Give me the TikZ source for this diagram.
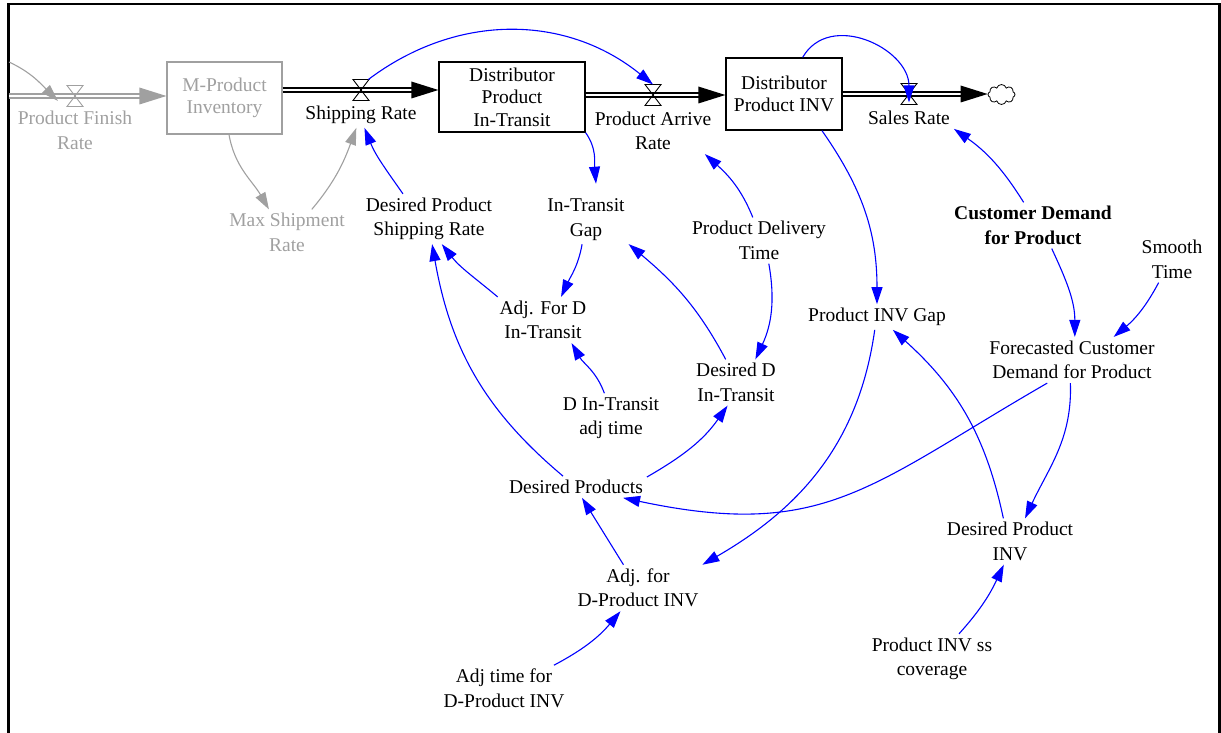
\documentclass[tikz,border=0pt]{standalone}
\usepackage{fontspec}
\setmainfont{Liberation Serif}
\usetikzlibrary{arrows.meta,calc,shapes.symbols}

\definecolor{linkblue}{RGB}{0,0,255}
\definecolor{ghost}{RGB}{160,160,160}

% hourglass valve drawn on a flow pipe
\newcommand\drawvalve[2][black]{%
  \draw[#1, line width=0.9pt] ($(#2)+(-8,10.5)$) -- ($(#2)+(8,10.5)$)
    -- ($(#2)+(-8,-10.5)$) -- ($(#2)+(8,-10.5)$) -- cycle;}
% solid head at the end of a pipe
\newcommand\pipehead[2][black]{%
  \fill[#1] (#2) -- ++(-27,8.5) -- ++(0,-17) -- cycle;}

\begin{document}
\begin{tikzpicture}[x=1pt,y=1pt,
  every node/.style={font=\fontsize{19.5}{24.5}\selectfont},
  lbl/.style={align=center, inner sep=4pt, outer sep=0pt},
  faded/.style={lbl, text=ghost},
  stock/.style={draw, line width=1.3pt, align=center, inner sep=2pt,
    font=\fontsize{19.5}{22.5}\selectfont},
  valve/.style={minimum width=16pt, minimum height=21pt, inner sep=0pt, outer sep=0pt},
  pipe/.style={draw=black, double=white, line width=1.3pt, double distance=2.6pt},
  link/.style={draw=linkblue, line width=1.1pt, -{Triangle[length=17pt,width=11pt]}},
  glink/.style={draw=ghost, line width=1.1pt, -{Triangle[length=17pt,width=11pt]}}
]
\useasboundingbox (0,0) rectangle (1221,-733);
\clip (0,0) rectangle (1221,-733);

% frame
\draw[line width=2.5pt] (8.7,-740) -- (8.7,-3.8) -- (1219.4,-3.8) -- (1219.4,-740);

% stocks
\node[stock, draw=ghost, text=ghost, line width=1.2pt, minimum width=115pt, minimum height=72pt] (mpi) at (224.5,-98) {M-Product\\Inventory};
\node[stock, minimum width=146pt, minimum height=70pt] (dpit) at (512,-97) {Distributor\\Product\\In-Transit};
\node[stock, minimum width=116pt, minimum height=72pt] (dpinv) at (784,-94) {Distributor\\Product INV};
\node[cloud, cloud puffs=8, aspect=1.4, draw, line width=0.8pt, minimum width=27pt, minimum height=20pt, inner sep=0pt] (sink) at (1001.5,-94.5) {};

% valves
\node[valve] (gv) at (75,-96) {};
\node[valve] (sv) at (361,-90) {};
\node[valve] (pav) at (653,-95) {};
\node[valve] (slv) at (909,-94) {};
\coordinate (gsrc) at (9,-96);
\coordinate (gsrc2) at (9,-62);

% pipes
\draw[pipe, draw=ghost] (gsrc) -- ($(mpi.west |- gv)+(-20,0)$);
\pipehead[ghost]{mpi.west |- gv}
\draw[pipe] (mpi.east |- sv) -- ($(dpit.west |- sv)+(-20,0)$);
\pipehead{dpit.west |- sv}
\draw[pipe] (dpit.east |- pav) -- ($(dpinv.west |- pav)+(-20,0)$);
\pipehead{dpinv.west |- pav}
\draw[pipe] (dpinv.east |- slv) -- ($(sink.west |- slv)+(-20,0)$);
\pipehead{sink.west |- slv}
\drawvalve[ghost]{gv}
\drawvalve{sv}
\drawvalve{pav}
\drawvalve{slv}

% variables
\node[faded] (pfr) at (75,-130.5) {Product Finish\\Rate};
\node[faded] (msr) at (287,-232.5) {Max Shipment\\Rate};
\node[lbl] (sr) at (361,-115) {Shipping Rate};
\node[lbl] (par) at (653,-131) {Product Arrive\\Rate};
\node[lbl] (salesr) at (909,-118) {Sales Rate};
\node[lbl] (dpsr) at (429,-219) {Desired Product\\Shipping Rate};
\node[lbl] (itg) at (586,-219.5) {In-Transit\\Gap};
\node[lbl] (pdt) at (759,-240.5) {Product Delivery\\Time};
\node[lbl] (afd) at (543,-320) {Adj. For D\\In-Transit};
\node[lbl] (ddit) at (736,-382.5) {Desired D\\In-Transit};
\node[lbl] (dita) at (611,-418) {D In-Transit\\adj time};
\node[lbl] (dp) at (576,-487) {Desired Products};
\node[lbl] (pig) at (877,-317) {Product INV Gap};
\node[lbl, font=\fontsize{19.5}{24.5}\selectfont\bfseries] (cdp) at (1033,-225.5) {Customer Demand\\for Product};
\node[lbl] (st) at (1172,-259.5) {Smooth\\Time};
\node[lbl] (fcd) at (1072,-360) {Forecasted Customer\\Demand for Product};
\node[lbl] (dpi) at (1010,-541.5) {Desired Product\\INV};
\node[lbl] (pic) at (932,-659) {Product INV ss\\coverage};
\node[lbl] (afdp) at (638,-588) {Adj. for\\D-Product INV};
\node[lbl] (atf) at (504,-688.5) {Adj time for\\D-Product INV};

% grey links
\draw[glink] (gsrc2) to[out=-25,in=135] ($(gv)+(-17,-5)$);
\draw[glink] (mpi.-83) to[out=-80,in=120] (msr.128);
\draw[glink] (msr.43) to[out=50,in=-110] (sr.-110);

% blue links
\draw[link] (sv.55) to[bend left=38] (pav.north);
\draw[link] (dpinv.63) to[out=60,in=90,looseness=1.2] ($(slv.south)+(0,2)$);
\draw[link] (dpsr.136) to[out=125,in=-68] (sr.-75);
\draw[link] (dpit.south east) to[out=-55,in=95] ($(itg.north)+(10,11)$);
\draw[link] (pdt.105) to[out=112,in=-42] (par.-24);
\draw[link] (itg.-99) to[out=-100,in=65] (afd.52);
\draw[link] (afd.153) to[out=140,in=-52] (dpsr.-63);
\draw[link] (dita.105) to[out=110,in=-60] (afd.-39);
\draw[link] (ddit.114) to[out=118,in=-40] (itg.-30);
\draw[link] (pdt.-67) to[out=-80,in=65] (ddit.50);
\draw[link] (dp.140) to[out=140,in=-80] (dpsr.-83);
\draw[link] (dp.8) to[out=30,in=-125] (ddit.-110);
\draw[link] (dpinv.-44) to[out=-55,in=90] (pig.north);
\draw[link] (pig.-100) to[out=-98,in=30] (afdp.north east);
\draw[link] (cdp.112) to[out=122,in=-35] (salesr.south east);
\draw[link] (cdp.-51) to[out=-65,in=90] (fcd.83);
\draw[link] (st.-120) to[out=-118,in=40] (fcd.29);
\draw[link] (fcd.-137) to[out=-150,in=-12,looseness=1.2] (dp.-13);
\draw[link] (fcd.-94) to[out=-88,in=65] (dpi.57);
\draw[link] (dpi.106) to[out=102,in=-42] (pig.-39);
\draw[link] (pic.43) to[out=48,in=-115] (dpi.-105);
\draw[link] (afdp.122) -- (dp.-61);
\draw[link] (atf.25) to[out=28,in=-130] (afdp.-127);
\end{tikzpicture}
\end{document}
